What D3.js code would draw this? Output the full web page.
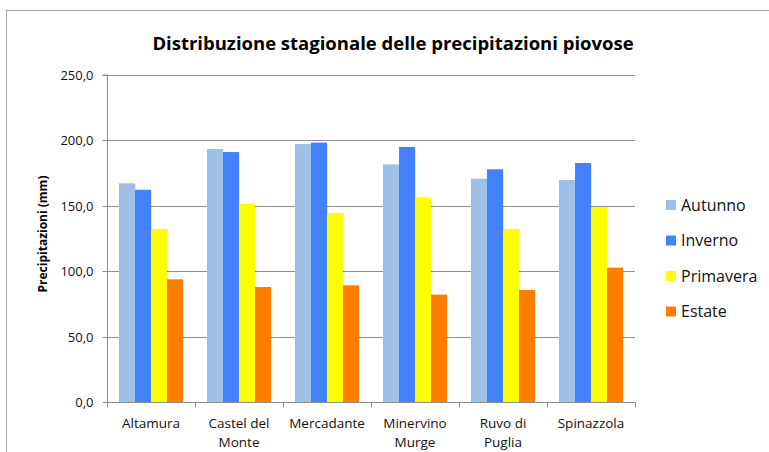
<!DOCTYPE html>
<html>
<head>
<meta charset="utf-8">
<script src="https://cdn.jsdelivr.net/npm/d3@7"></script>
<style>
  html, body { margin: 0; padding: 0; background: #fff; }
  svg { display: block; font-family: "Open Sans", sans-serif; }
</style>
</head>
<body>
<svg id="chart" width="769" height="452"></svg>
<script>
const categories = [["Altamura"], ["Castel del", "Monte"], ["Mercadante"], ["Minervino", "Murge"], ["Ruvo di", "Puglia"], ["Spinazzola"]];
const seriesNames = ["Autunno", "Inverno", "Primavera", "Estate"];
const autunno   = [167.2, 193.4, 197.2, 181.7, 170.7, 169.7];
const inverno   = [162.3, 191.1, 198.3, 195.0, 177.9, 182.7];
const primavera = [132.3, 151.6, 144.5, 156.5, 132.3, 149.1];
const estate    = [93.8, 87.9, 89.2, 82.1, 85.6, 102.7];
const colors = ["#9fc0e6", "#4282fd", "#ffff00", "#ff7d00"];
const yTicks = [0, 50, 100, 150, 200, 250];
const title = "Distribuzione stagionale delle precipitazioni piovose";
const yTitle = "Precipitazioni (mm)";

const seriesValues = [autunno, inverno, primavera, estate];
const catKeys = categories.map(c => c.join(" "));

const svg = d3.select("#chart");

// outer frame
svg.append("rect").attr("x", 6.5).attr("y", 10.5).attr("width", 800).attr("height", 500)
  .attr("fill", "none").attr("stroke", "#a6a6a6").attr("stroke-width", 1);

const plot = { left: 107, right: 635, top: 75, bottom: 402 };

const x0 = d3.scaleBand().domain(catKeys).range([plot.left, plot.right]).paddingInner(0).paddingOuter(0);
const x1 = d3.scaleBand().domain(seriesNames).range([0, x0.bandwidth()]).paddingInner(0).paddingOuter(0.75);
const y = d3.scaleLinear().domain([0, 250]).range([plot.bottom, plot.top]);

// gridlines
svg.append("g").selectAll("line").data(yTicks.filter(t => t > 0)).join("line")
  .attr("x1", plot.left).attr("x2", plot.right)
  .attr("y1", d => Math.round(y(d)) + 0.5).attr("y2", d => Math.round(y(d)) + 0.5)
  .attr("stroke", "#8f8f8f").attr("stroke-width", 1);

// bars
const groups = svg.append("g").selectAll("g").data(catKeys).join("g")
  .attr("transform", d => `translate(${x0(d)},0)`);
groups.each(function(cat, ci) {
  const g = d3.select(this);
  seriesNames.forEach((s, si) => {
    const v = seriesValues[si][ci];
    // subtle shadow
    g.append("rect")
      .attr("x", x1(s) + 1).attr("y", y(v) + 1)
      .attr("width", x1.bandwidth()).attr("height", plot.bottom - y(v) - 1)
      .attr("fill", "#000").attr("opacity", 0.08);
    g.append("rect")
      .attr("x", x1(s)).attr("y", y(v))
      .attr("width", x1.bandwidth()).attr("height", plot.bottom - y(v))
      .attr("fill", colors[si]);
  });
});

// y axis
const yAxis = svg.append("g").attr("transform", `translate(${plot.left + 0.5},0)`)
  .call(d3.axisLeft(y).tickValues(yTicks).tickSize(5).tickPadding(9)
    .tickFormat(d => d3.format(".1f")(d).replace(".", ",")));
yAxis.select(".domain").attr("stroke", "#8f8f8f").attr("d", `M-5,${plot.top}H0V${plot.bottom}`);
yAxis.selectAll(".tick line").attr("stroke", "#8f8f8f");
yAxis.selectAll(".tick text").attr("font-family", "Open Sans, sans-serif").attr("font-size", 13).attr("fill", "#111");
yAxis.selectAll(".tick").attr("transform", d => `translate(0,${Math.round(y(d)) + 0.5})`);

// x axis
const xAxisG = svg.append("g").attr("transform", `translate(0,${plot.bottom + 0.5})`);
xAxisG.append("line").attr("x1", plot.left).attr("x2", plot.right).attr("stroke", "#8f8f8f");
const boundaries = catKeys.map(k => x0(k)).concat([plot.right]);
xAxisG.selectAll("line.tk").data(boundaries).join("line").attr("class", "tk")
  .attr("x1", d => Math.round(d) + 0.5).attr("x2", d => Math.round(d) + 0.5)
  .attr("y1", 0).attr("y2", 5).attr("stroke", "#8f8f8f");
const labels = xAxisG.selectAll("text").data(categories).join("text")
  .attr("text-anchor", "middle")
  .attr("font-size", 13.5).attr("fill", "#111")
  .attr("x", (d, i) => x0(catKeys[i]) + x0.bandwidth() / 2)
  .attr("y", 25);
labels.each(function(lines) {
  const t = d3.select(this);
  lines.forEach((ln, li) => t.append("tspan").attr("x", t.attr("x")).attr("dy", li === 0 ? 0 : 19).text(ln));
});

// title
svg.append("text").attr("x", 393).attr("y", 50).attr("text-anchor", "middle")
  .attr("font-size", 18.5).attr("font-weight", "bold").attr("fill", "#000").text(title);

// y title
svg.append("text").attr("transform", `translate(47,234) rotate(-90)`).attr("text-anchor", "middle")
  .attr("font-size", 12).attr("font-weight", "bold").attr("fill", "#000").text(yTitle);

// legend
const legend = svg.append("g").selectAll("g").data(seriesNames).join("g")
  .attr("transform", (d, i) => `translate(666,${205 + i * 35.5})`);
legend.append("rect").attr("x", 0).attr("y", -5).attr("width", 10).attr("height", 10)
  .attr("fill", (d, i) => colors[i]);
legend.append("text").attr("x", 15).attr("y", 0).attr("dy", "0.35em")
  .attr("font-size", 16).attr("fill", "#111").text(d => d);
</script>
</body>
</html>
